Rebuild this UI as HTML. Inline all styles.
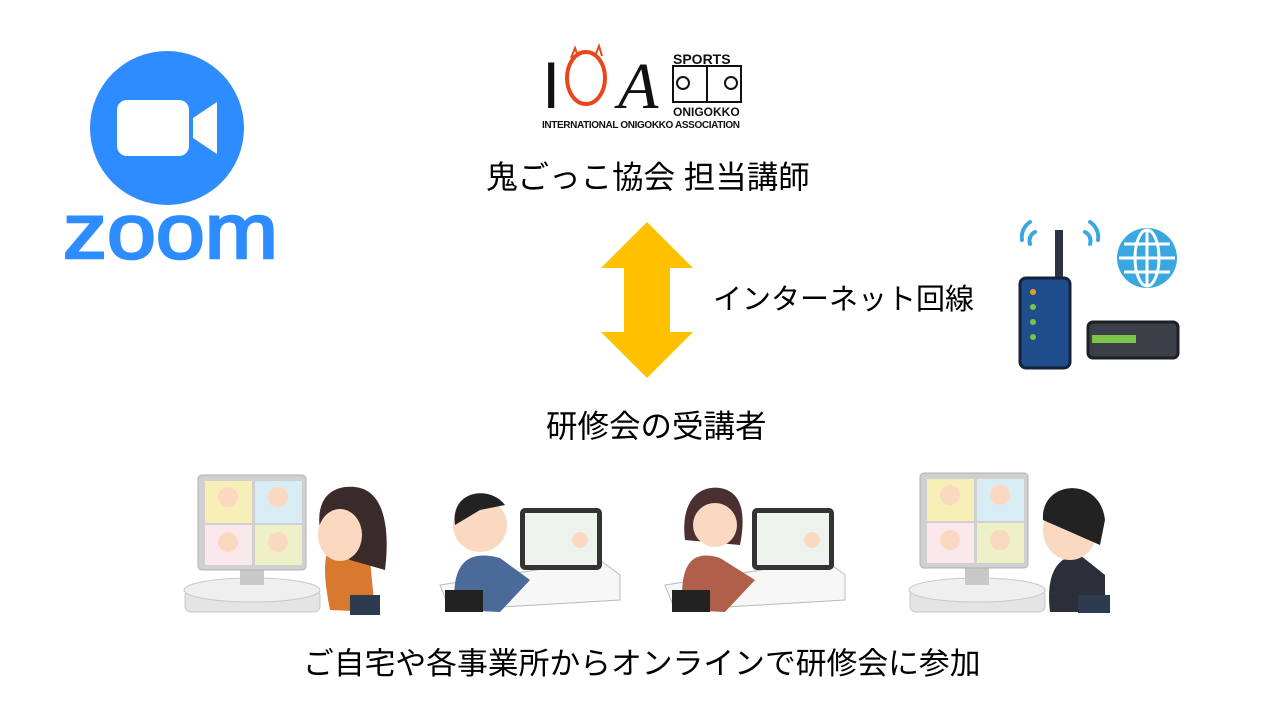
<!DOCTYPE html>
<html><head><meta charset="utf-8">
<style>
body{margin:0;width:1280px;height:718px;background:#fff;position:relative;overflow:hidden;font-family:"Liberation Sans","Noto Sans CJK JP",sans-serif;color:#000}
.t{position:absolute;font-size:31.5px;white-space:nowrap;line-height:1}
svg{position:absolute;left:0;top:0}
</style></head><body>
<svg width="1280" height="718" viewBox="0 0 1280 718">
<!-- zoom logo -->
<circle cx="167" cy="128" r="77" fill="#2D8CFF"/>
<rect x="117" y="100" width="72" height="56" rx="10" fill="#fff"/>
<path d="M193 118 L217 102 L217 154 L193 138 Z" fill="#fff"/>
<text x="63" y="258" font-family="Liberation Sans" font-size="78" fill="#2D8CFF" stroke="#2D8CFF" stroke-width="2.5" textLength="215" lengthAdjust="spacingAndGlyphs">zoom</text>
<!-- IOA logo -->
<text x="542" y="108" font-family="Liberation Sans" font-size="66" fill="#111">I</text>
<ellipse cx="586" cy="78" rx="19" ry="26" fill="none" stroke="#E8471C" stroke-width="4"/>
<path d="M571 58l4-10 3 8M595 56l4-10 3 10" stroke="#E8471C" stroke-width="2" fill="none"/>
<text x="618" y="108" font-family="Liberation Serif" font-style="italic" font-size="66" fill="#111">A</text>
<text x="673" y="64" font-family="Liberation Sans" font-weight="bold" font-size="14" fill="#111">SPORTS</text>
<rect x="673" y="66" width="68" height="36" fill="none" stroke="#111" stroke-width="2"/>
<line x1="707" y1="66" x2="707" y2="102" stroke="#111" stroke-width="2"/>
<circle cx="683" cy="83" r="6" fill="none" stroke="#111" stroke-width="2"/>
<circle cx="731" cy="83" r="6" fill="none" stroke="#111" stroke-width="2"/>
<text x="673" y="116" font-family="Liberation Sans" font-weight="bold" font-size="12" fill="#111">ONIGOKKO</text>
<text x="542" y="128" font-family="Liberation Sans" font-weight="bold" font-size="10" fill="#111" textLength="198">INTERNATIONAL ONIGOKKO ASSOCIATION</text>
<!-- arrow -->
<path d="M647 222 L693 268 L670 268 L670 332 L693 332 L647 378 L601 332 L624 332 L624 268 L601 268 Z" fill="#FFC000"/>
<!-- router -->
<path d="M1022 240a18 18 0 0 1 8-18M1030 244a10 10 0 0 1 5-12M1098 240a18 18 0 0 0-8-18M1090 244a10 10 0 0 0-5-12" stroke="#3BA7E0" stroke-width="4" fill="none" stroke-linecap="round"/>
<rect x="1055" y="230" width="8" height="50" fill="#2A3444"/>
<rect x="1020" y="278" width="50" height="90" rx="6" fill="#1E4E8C" stroke="#15233a" stroke-width="3"/>
<circle cx="1033" cy="292" r="3" fill="#E8A020"/><circle cx="1033" cy="307" r="3" fill="#7CC34A"/><circle cx="1033" cy="322" r="3" fill="#7CC34A"/><circle cx="1033" cy="337" r="3" fill="#7CC34A"/>
<circle cx="1147" cy="258" r="30" fill="#3BA7E0"/>
<ellipse cx="1147" cy="258" rx="12" ry="28" fill="none" stroke="#fff" stroke-width="3"/>
<line x1="1119" y1="258" x2="1175" y2="258" stroke="#fff" stroke-width="3"/><line x1="1147" y1="230" x2="1147" y2="286" stroke="#fff" stroke-width="3"/>
<path d="M1124 244h46M1124 272h46" stroke="#fff" stroke-width="3"/>
<rect x="1088" y="322" width="90" height="36" rx="5" fill="#3A3F48" stroke="#1c1f24" stroke-width="3"/>
<rect x="1092" y="335" width="44" height="8" fill="#7CC34A"/>
<!-- illustrations -->
<g>
<rect x="185" y="590" width="135" height="22" rx="6" fill="#e4e4e4" stroke="#c7c7c7"/>
<ellipse cx="252" cy="590" rx="68" ry="12" fill="#efefef" stroke="#c9c9c9"/>
<rect x="240" y="565" width="24" height="20" fill="#c8c8c8"/>
<rect x="198" y="475" width="108" height="95" rx="4" fill="#d0d0d0" stroke="#b0b0b0"/>
<rect x="205" y="481" width="47" height="42" fill="#f8efb8"/><rect x="255" y="481" width="47" height="42" fill="#d8ecf4"/>
<rect x="205" y="525" width="47" height="40" fill="#fbe8ec"/><rect x="255" y="525" width="47" height="40" fill="#eef0c8"/>
<circle cx="228" cy="497" r="10" fill="#fbd9c0"/><circle cx="278" cy="497" r="10" fill="#fbd9c0"/><circle cx="228" cy="542" r="10" fill="#fbd9c0"/><circle cx="278" cy="542" r="10" fill="#fbd9c0"/>
<path d="M330 610 C320 560 325 540 345 540 L370 560 L375 612 Z" fill="#D9782F"/>
<path d="M320 530 C315 495 335 485 355 487 C385 490 390 530 385 570 L350 560 Z" fill="#3b2a2a"/>
<ellipse cx="340" cy="535" rx="22" ry="26" fill="#fbd9c0"/>
<rect x="350" y="595" width="30" height="20" fill="#2d3b50"/>
</g>
<g>
<path d="M440 585 L600 560 L620 575 L620 600 L450 610 Z" fill="#f7f7f7" stroke="#bbb"/>
<rect x="520" y="508" width="82" height="62" rx="5" fill="#333"/>
<rect x="525" y="513" width="72" height="52" fill="#eef2ec"/>
<circle cx="580" cy="540" r="8" fill="#fbd9c0"/>
<path d="M455 610 C450 560 470 550 500 558 L530 580 L500 612 Z" fill="#4A6A9A"/>
<circle cx="480" cy="525" r="27" fill="#fbd9c0"/>
<path d="M455 525 C450 490 490 485 505 505 L480 510 Z" fill="#222"/>
<rect x="445" y="590" width="38" height="22" fill="#222"/>
</g>
<g>
<path d="M665 585 L825 560 L845 575 L845 600 L675 610 Z" fill="#f7f7f7" stroke="#bbb"/>
<rect x="752" y="508" width="82" height="62" rx="5" fill="#333"/>
<rect x="757" y="513" width="72" height="52" fill="#eef2ec"/>
<circle cx="812" cy="540" r="8" fill="#fbd9c0"/>
<path d="M683 610 C678 560 695 550 720 558 L755 580 L725 612 Z" fill="#B0604A"/>
<path d="M685 540 C680 500 700 485 720 488 C745 492 745 520 740 545 Z" fill="#4a3030"/>
<circle cx="715" cy="525" r="22" fill="#fbd9c0"/>
<rect x="672" y="590" width="38" height="22" fill="#222"/>
</g>
<g>
<rect x="910" y="590" width="135" height="22" rx="6" fill="#e4e4e4" stroke="#c7c7c7"/>
<ellipse cx="977" cy="590" rx="68" ry="12" fill="#efefef" stroke="#c9c9c9"/>
<rect x="965" y="565" width="24" height="20" fill="#c8c8c8"/>
<rect x="920" y="473" width="108" height="95" rx="4" fill="#d0d0d0" stroke="#b0b0b0"/>
<rect x="927" y="479" width="47" height="42" fill="#f8efb8"/><rect x="977" y="479" width="47" height="42" fill="#d8ecf4"/>
<rect x="927" y="523" width="47" height="40" fill="#fbe8ec"/><rect x="977" y="523" width="47" height="40" fill="#eef0c8"/>
<circle cx="950" cy="495" r="10" fill="#fbd9c0"/><circle cx="1000" cy="495" r="10" fill="#fbd9c0"/><circle cx="950" cy="540" r="10" fill="#fbd9c0"/><circle cx="1000" cy="540" r="10" fill="#fbd9c0"/>
<path d="M1050 612 C1045 570 1060 555 1080 555 L1105 575 L1105 612 Z" fill="#2a2f3a"/>
<ellipse cx="1070" cy="530" rx="27" ry="30" fill="#fbd9c0"/>
<path d="M1043 520 C1040 480 1100 475 1105 520 L1100 545 Z" fill="#222"/>
<rect x="1078" y="595" width="32" height="18" fill="#2d3b50"/>
</g>
</svg>
<div class="t" style="left:486px;top:162px">鬼ごっこ協会 担当講師</div>
<div class="t" style="left:713px;top:286px;font-size:29px">インターネット回線</div>
<div class="t" style="left:546px;top:411px">研修会の受講者</div>
<div class="t" style="left:303px;top:649px;font-size:30.8px">ご自宅や各事業所からオンラインで研修会に参加</div>
</body></html>
